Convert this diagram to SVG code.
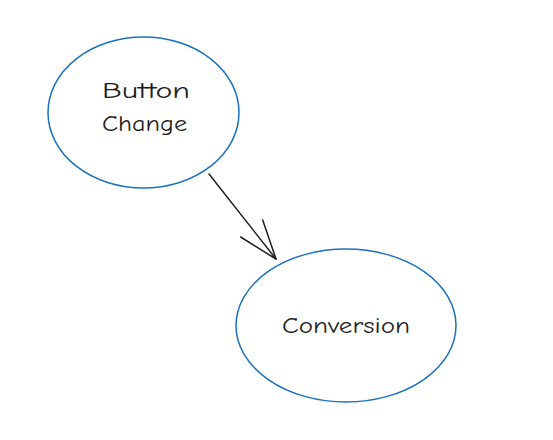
<svg xmlns="http://www.w3.org/2000/svg" width="553" height="440" viewBox="0 0 553 440">
<style>
.node{fill:#ffffff;stroke:#1971c2;stroke-width:1.5}
.lbl{font-family:"Comic Neue","Liberation Sans",sans-serif;font-size:23px;fill:#1e1e1e;text-anchor:middle}
.edge{fill:none;stroke:#1e1e1e;stroke-width:1.5;stroke-linecap:round;stroke-linejoin:round}
</style>
<rect width="553" height="440" fill="#ffffff"/>
<g id="node-button-change">
<ellipse class="node" cx="143.5" cy="112.5" rx="95.5" ry="75.5"/>
<text class="lbl" x="146" y="98" textLength="88" lengthAdjust="spacingAndGlyphs">Button</text>
<text class="lbl" x="144.5" y="131" textLength="85" lengthAdjust="spacingAndGlyphs">Change</text>
</g>
<g id="node-conversion">
<ellipse class="node" cx="346" cy="325.5" rx="110" ry="76.5"/>
<text class="lbl" x="346" y="333" textLength="128" lengthAdjust="spacingAndGlyphs">Conversion</text>
</g>
<g id="connectors">
<path class="edge" d="M209 174 L276 259"/>
<path class="edge" d="M240.7 237 L276 259 L262.7 220"/>
</g>
</svg>
